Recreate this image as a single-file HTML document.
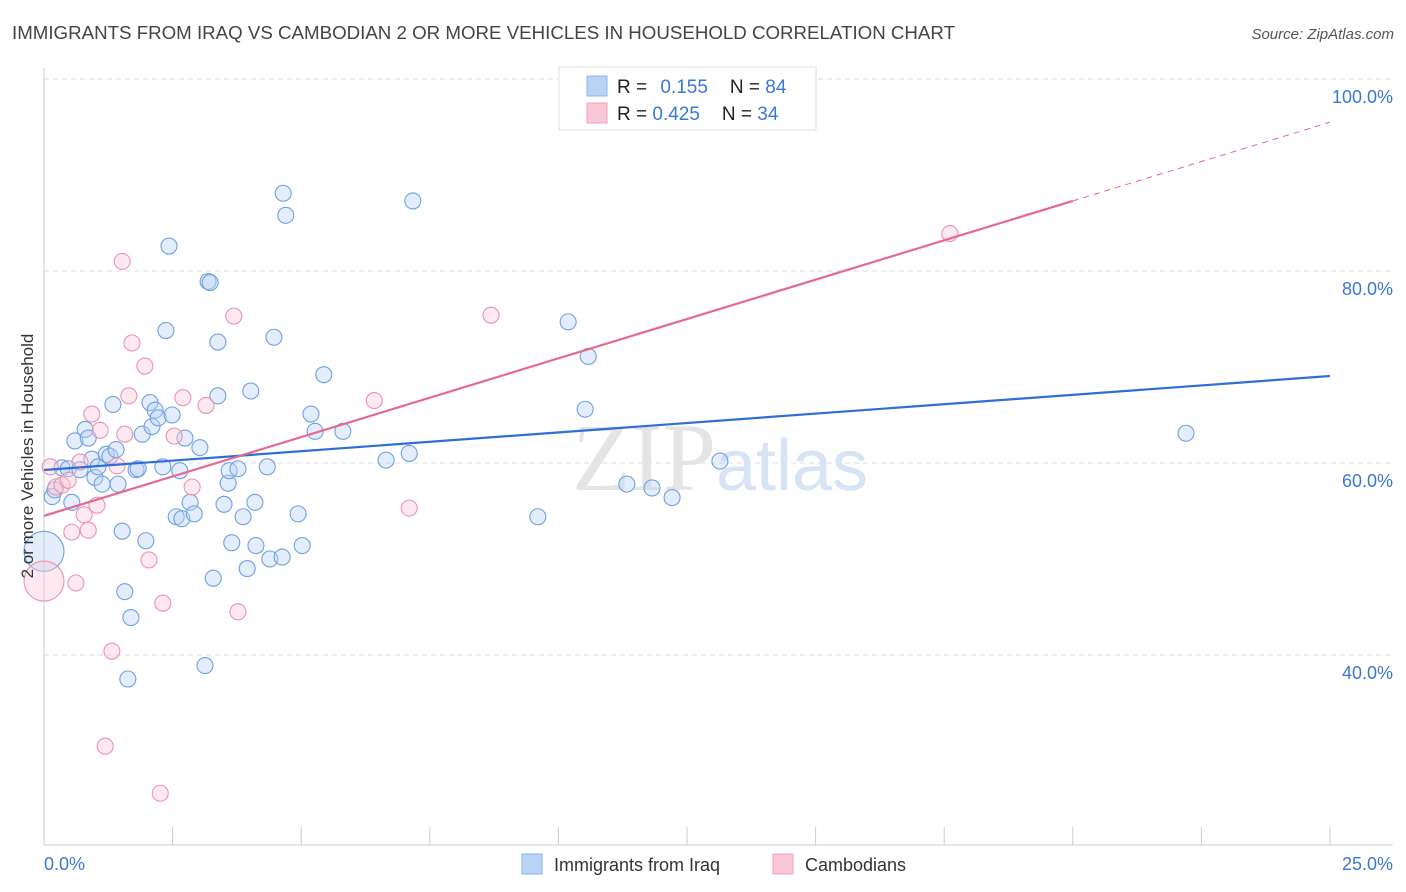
<!DOCTYPE html>
<html><head><meta charset="utf-8"><style>
body{margin:0;background:#fff;font-family:"Liberation Sans",sans-serif;}
svg{display:block}
</style></head><body>
<svg id="chart" width="1406" height="892" xmlns="http://www.w3.org/2000/svg">
<text x="12" y="39" font-size="18" fill="#444" textLength="943" lengthAdjust="spacingAndGlyphs">IMMIGRANTS FROM IRAQ VS CAMBODIAN 2 OR MORE VEHICLES IN HOUSEHOLD CORRELATION CHART</text>
<text x="1394" y="39" font-size="15" fill="#555" font-style="italic" text-anchor="end">Source: ZipAtlas.com</text>
<g id="grid"></g>
<text x="720" y="490" font-size="96" text-anchor="middle" font-family="Liberation Serif,serif" fill="#e4e4e4">ZIP<tspan fill="#d6e4f5" font-family="Liberation Sans,sans-serif" font-size="72">atlas</tspan></text>
<g id="marks"></g>
<text transform="translate(33,456) rotate(-90)" font-size="17" fill="#333" text-anchor="middle">2 or more Vehicles in Household</text>
<g>
<rect x="559" y="67" width="257" height="63" fill="#fff" stroke="#ddd"/>
<rect x="587" y="76" width="20" height="20" fill="#b9d3f5" stroke="#8db5ea"/>
<rect x="587" y="103" width="20" height="20" fill="#f9c7d6" stroke="#f1a0b8"/>
<text x="617" y="93" font-size="19" fill="#222">R = <tspan fill="#3a78d6" dx="8">0.155</tspan><tspan dx="22" fill="#222">N = </tspan><tspan fill="#3a78d6">84</tspan></text>
<text x="617" y="120" font-size="19" fill="#222">R = <tspan fill="#3a78d6">0.425</tspan><tspan dx="22" fill="#222">N = </tspan><tspan fill="#3a78d6">34</tspan></text>
</g>
<g>
<rect x="522" y="854" width="20" height="20" fill="#b9d3f5" stroke="#8db5ea"/>
<text x="554" y="871" font-size="18" fill="#333">Immigrants from Iraq</text>
<rect x="773" y="854" width="20" height="20" fill="#f9c7d6" stroke="#f1a0b8"/>
<text x="805" y="871" font-size="18" fill="#333">Cambodians</text>
</g>
</svg>
<script>
const yTicks=[40,60,80,100];
const xTickLabels=["0.0%","25.0%"];
const blueX=[0,0.16,0.21,0.35,0.47,0.54,0.60,0.80,0.86,0.70,0.93,0.99,1.05,1.13,1.21,1.28,1.34,1.40,1.44,1.52,1.57,1.63,1.69,1.79,1.83,1.91,1.98,2.06,2.10,2.16,2.22,2.31,2.37,2.43,2.49,2.57,2.64,2.68,2.74,2.84,2.92,3.03,3.13,3.19,3.23,3.29,3.38,3.38,3.50,3.58,3.60,3.65,3.77,3.87,3.95,4.02,4.10,4.12,4.34,4.39,4.47,4.63,4.65,4.70,4.94,5.02,5.19,5.27,5.44,5.81,6.65,7.10,7.17,9.60,10.19,10.52,10.58,11.33,11.82,12.21,13.14,22.20];
const blueY=[50.8,56.5,57.2,59.5,59.4,55.9,62.3,63.5,62.6,59.3,60.4,58.5,59.6,57.8,60.9,60.7,66.1,61.4,57.8,52.9,46.6,37.5,43.9,59.3,59.4,63.0,51.9,66.3,63.8,65.5,64.7,59.6,73.8,82.6,65.0,54.4,59.2,54.2,62.6,55.9,54.7,61.6,38.9,78.9,78.8,48.0,72.6,67.0,55.7,57.9,59.2,51.7,59.4,54.4,49.0,67.5,55.9,51.4,59.6,50.0,73.1,50.2,88.1,85.8,54.7,51.4,65.1,63.3,69.2,63.3,60.3,61.0,87.3,54.4,74.7,65.6,71.1,57.8,57.4,56.4,60.2,63.1];
const pinkX=[0,0.12,0.23,0.35,0.47,0.54,0.62,0.70,0.78,0.86,0.93,1.03,1.09,1.19,1.32,1.42,1.52,1.57,1.65,1.71,1.96,2.04,2.26,2.31,2.53,2.70,2.88,3.15,3.69,3.77,6.42,7.10,8.69,17.61];
const pinkY=[47.7,59.6,57.5,57.7,58.2,52.8,47.5,60.1,54.6,53.0,65.1,55.6,63.4,30.5,40.4,59.7,81.0,63.0,67.0,72.5,70.1,49.9,25.6,45.4,62.8,66.8,57.5,66.0,75.3,44.5,66.5,55.3,75.4,83.9];
const blueTrend=[59.27,69.06];
const pinkTrend=[54.5,95.5];
const NS="http://www.w3.org/2000/svg";
const X=v=>44+v*51.44, Y=v=>79+(100-v)*9.6;
function mk(p,t,a){const e=document.createElementNS(NS,t);for(const k in a)e.setAttribute(k,a[k]);p.appendChild(e);return e;}
const g=document.getElementById('grid'),m=document.getElementById('marks');
yTicks.forEach(t=>{const l=mk(g,'line',{x1:44,x2:1393,y1:Y(t),y2:Y(t),stroke:'#ddd','stroke-dasharray':'5,4'});


const tx=mk(g,'text',{x:1393,y:Y(t)+24,'font-size':18,fill:'#3a78d6','text-anchor':'end'});tx.textContent=t.toFixed(1)+'%';

});
mk(g,'line',{x1:44,x2:44,y1:68,y2:845,stroke:'#ccc'});
mk(g,'line',{x1:44,x2:1393,y1:845,y2:845,stroke:'#ccc'});
for(let i=0;i<=10;i++){const tk=mk(g,'line',{x1:X(i*2.5),x2:X(i*2.5),y1:827,y2:845,stroke:'#ccc'});

}
const xl0=mk(g,'text',{x:44,y:870,'font-size':18,fill:'#3a78d6'});xl0.textContent=xTickLabels[0];


const xl1=mk(g,'text',{x:1393,y:870,'font-size':18,fill:'#3a78d6','text-anchor':'end'});xl1.textContent=xTickLabels[1];


function pts(xs,ys,fill,stroke,name){xs.forEach((x,i)=>{const c=mk(m,'circle',{cx:X(x),cy:Y(ys[i]),r:i==0?20:8,fill:fill,'fill-opacity':0.4,stroke:stroke,'stroke-width':1.1});

});}
pts(blueX,blueY,'#b9d3f5','#6fa0e0','iraq-point');
pts(pinkX,pinkY,'#f9c7d6','#ec93af','cambodian-point');
const bl=mk(m,'line',{x1:X(0),y1:Y(blueTrend[0]),x2:X(25),y2:Y(blueTrend[1]),stroke:'#2f6fd4','stroke-width':2.2});


const pm=v=>pinkTrend[0]+(pinkTrend[1]-pinkTrend[0])*v/25;
const pl=mk(m,'line',{x1:X(0),y1:Y(pm(0)),x2:X(20),y2:Y(pm(20)),stroke:'#e5688f','stroke-width':2.2});


const pd=mk(m,'line',{x1:X(20),y1:Y(pm(20)),x2:X(25),y2:Y(pm(25)),stroke:'#e5688f','stroke-width':1,'stroke-dasharray':'6,5'});


</script>
</body></html>
